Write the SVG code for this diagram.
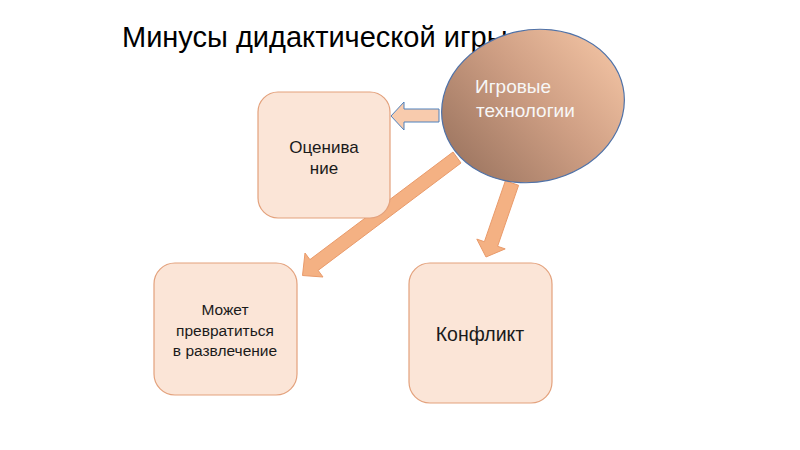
<svg xmlns="http://www.w3.org/2000/svg" width="800" height="450" viewBox="0 0 800 450">
<defs>
<linearGradient id="eg" gradientUnits="userSpaceOnUse" x1="460" y1="175" x2="610" y2="40" gradientTransform="rotate(12 533 106)">
<stop offset="0" stop-color="#9c7560"/>
<stop offset="0.55" stop-color="#cf9f84"/>
<stop offset="1" stop-color="#f2c3a3"/>
</linearGradient>
<style>
.box{fill:#fbe5d7;stroke:#e3a17c;stroke-width:1.2}
.t{font-family:"Liberation Sans",Arial,sans-serif;fill:#1a1a1a;text-anchor:middle}
.arr{fill:#f4b183;stroke:#e99a6a;stroke-width:1}
.w{font-family:"Liberation Sans",Arial,sans-serif;fill:#f7f7f7;font-size:19px}
</style>
</defs>
<rect width="800" height="450" fill="#ffffff"/>
<text x="122" y="47" font-family="Liberation Sans, Arial, sans-serif" font-size="29" fill="#000">Минусы дидактической игры</text>
<g id="connectors">
<polygon class="arr" points="453,152 309.9,259.6 305,253 302.5,275.5 323,277 318.1,270.4 461,163"/>
<polygon class="arr" points="505.4,180.7 484.4,241.7 476.8,239.1 486,257 505.2,248.9 497.6,246.3 518.6,185.3"/>
<polygon points="439,109 404,109 404,102 391,116 404,130 404,122 439,122" fill="#f8cbad" stroke="#4f81bd" stroke-width="1"/>
</g>
<g id="n-igrovye">
<ellipse cx="533" cy="106" rx="92" ry="76" transform="rotate(-12 533 106)" fill="url(#eg)" stroke="#4f72a8" stroke-width="1.2"/>
<text class="w" x="475" y="93">Игровые</text>
<text class="w" x="476" y="117">технологии</text>
</g>
<g id="n-ocenivanie">
<rect class="box" x="258" y="92" width="132" height="126" rx="20"/>
<text class="t" x="324" y="153" font-size="17">Оценива</text>
<text class="t" x="324" y="174" font-size="17">ние</text>
</g>
<g id="n-mozhet">
<rect class="box" x="154" y="263" width="143" height="132" rx="21"/>
<text class="t" x="225" y="315" font-size="15.5">Может</text>
<text class="t" x="225" y="336" font-size="15.5">превратиться</text>
<text class="t" x="225" y="356" font-size="15.5">в развлечение</text>
</g>
<g id="n-konflikt">
<rect class="box" x="409" y="263" width="143" height="140" rx="21"/>
<text class="t" x="480" y="341" font-size="19.5">Конфликт</text>
</g>
</svg>
